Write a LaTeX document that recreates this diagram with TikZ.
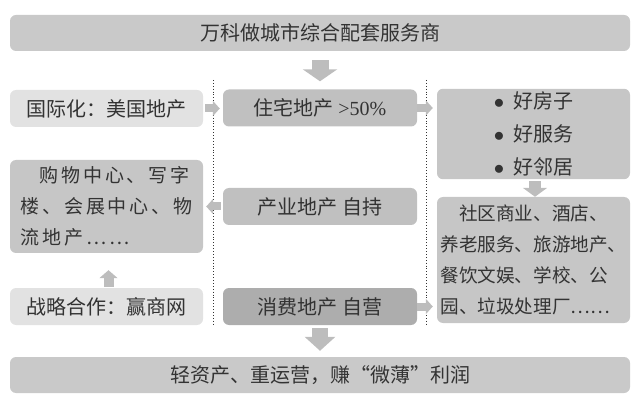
\documentclass[tikz,border=0pt]{standalone}
\usepackage{fontspec}
\setmainfont{Noto Sans CJK SC}
\newfontfamily\latinfont{Liberation Serif}
\newfontfamily\widecjk[LetterSpace=15]{Noto Sans CJK SC}
\usetikzlibrary{arrows.meta}
\definecolor{barfill}{HTML}{C9C9C9}
\definecolor{lightfill}{HTML}{E2E2E2}
\definecolor{boxfill}{HTML}{C6C6C6}
\definecolor{midfill}{HTML}{C0C0C0}
\definecolor{darkfill}{HTML}{ADADAD}
\definecolor{arrowfill}{HTML}{BDBDBD}
\definecolor{txt}{HTML}{333333}

\begin{document}
\begin{tikzpicture}[x=1pt,y=-1pt,
  box/.style={rounded corners=6pt, text=txt, minimum width=193pt, minimum height=37pt, inner sep=3pt, font=\fontsize{20}{26}\selectfont},
  bar/.style={box, fill=barfill, minimum width=620pt, minimum height=36pt},
  fatarrow/.style={draw=arrowfill, line width=17pt, -{Triangle[length=12pt,width=34pt]}},
  thinarrow/.style={draw=arrowfill, line width=8pt, -{Triangle[length=7pt,width=15pt]}},
  sepline/.style={draw=txt, line width=0.9pt, dotted}]
\useasboundingbox (0,0) rectangle (640,406);

% top and bottom bars
\node [bar] (top) at (320,33) {万科做城市综合配套服务商};
\node [bar] (bottom) at (320,375) {轻资产、重运营，赚“微薄”利润};

% left column
\node [box, fill=lightfill] (intl) at (106.5,108.5) {国际化：美国地产};
\node [box, fill=boxfill, minimum height=93pt, align=left, font=\widecjk\fontsize{19}{31}\selectfont] (mall) at (106.5,206.5)
  {\hspace*{1em}购物中心、写字\\楼、会展中心、物\\流地产……};
\node [box, fill=lightfill] (partner) at (106.5,306.5) {战略合作：赢商网};

% middle column
\node [box, fill=midfill, minimum width=194pt] (house) at (320,108) {住宅地产 {\latinfont >50\%}};
\node [box, fill=midfill, minimum width=194pt] (industry) at (320,206.5) {产业地产 自持};
\node [box, fill=darkfill, minimum width=194pt] (consume) at (320,306.5) {消费地产 自营};

% right column
\node [box, fill=boxfill, minimum height=88pt, align=center, font=\fontsize{20}{33}\selectfont] (good) at (533.5,134)
  {$\bullet$\hspace{0.45em}好房子\\$\bullet$\hspace{0.45em}好服务\\$\bullet$\hspace{0.45em}好邻居};
\node [box, fill=boxfill, minimum height=126pt, align=left, font=\fontsize{18.6}{31}\selectfont] (life) at (533.5,260)
  {\hspace*{1em}社区商业、酒店、\\养老服务、旅游地产、\\餐饮文娱、学校、公\\园、垃圾处理厂……};

% separators
\draw [sepline] (213,80) -- (213,325);
\draw [sepline] (426,80) -- (426,325);

% arrows
\draw [fatarrow, shorten <=9pt, shorten >=8pt] (top) -- (house);
\draw [fatarrow, line width=16pt, -{Triangle[length=14pt,width=30pt]}, shorten <=3pt, shorten >=6pt] (consume) -- (bottom);
\draw [thinarrow, shorten <=2pt, shorten >=3pt] (intl) -- (intl -| house.west);
\draw [thinarrow, shorten >=4pt] (house) -- (house -| good.west);
\draw [thinarrow, shorten <=2pt, shorten >=3pt] (industry) -- (industry -| mall.east);
\draw [thinarrow, shorten >=4pt] (consume) -- (consume -| life.west);
\draw [thinarrow, line width=10pt, -{Triangle[length=8pt,width=18pt]}, shorten <=1pt, shorten >=17pt]
  ([xshift=2pt]partner.north) -- ([xshift=2pt]partner.north |- mall.south);
\draw [thinarrow, line width=12pt, -{Triangle[length=9pt,width=24pt]}, shorten <=2pt]
  ([xshift=1.5pt]good.south) -- ([xshift=1.5pt]life.north);
\end{tikzpicture}
\end{document}
